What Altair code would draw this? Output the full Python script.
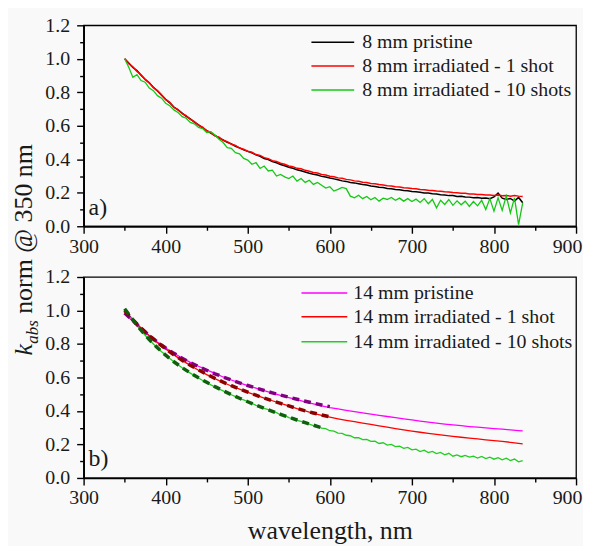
import altair as alt
import pandas as pd

FONT = "Liberation Serif, Times New Roman, Times, DejaVu Serif, serif"
TXT = "#1a1a1a"

# ---------------- data ----------------
WL = list(range(350, 836, 5))                 # 5 nm grid, 350..835
WL10 = list(range(350, 831, 10)) + [835]      # 10 nm grid, 350..835
WL_FIT = list(range(350, 601, 10))            # fit range 350..600
WL_FIT_G = list(range(350, 591, 10))          # fit range 350..590

X_TICKS = list(range(300, 901, 50))
Y_TICKS = [0.0, 0.1, 0.2, 0.3, 0.4, 0.5, 0.6, 0.7, 0.8, 0.9, 1.0, 1.1, 1.2]

A_NAMES = ["8 mm pristine", "8 mm irradiated - 1 shot", "8 mm irradiated - 10 shots"]
A_COLORS = ["#000000", "#ff0000", "#14c814"]

A_PRISTINE = [
    1.000, 0.975, 0.948, 0.930, 0.902, 0.878, 0.856, 0.830, 0.808, 0.782,
    0.758, 0.737, 0.712, 0.695, 0.676, 0.656, 0.641, 0.622, 0.605, 0.588,
    0.571, 0.556, 0.542, 0.528, 0.515, 0.502, 0.492, 0.478, 0.468, 0.456,
    0.447, 0.438, 0.426, 0.418, 0.405, 0.398, 0.386, 0.379, 0.369, 0.361,
    0.352, 0.346, 0.337, 0.331, 0.324, 0.317, 0.311, 0.306, 0.298, 0.294,
    0.288, 0.283, 0.278, 0.271, 0.268, 0.262, 0.259, 0.254, 0.249, 0.246,
    0.241, 0.238, 0.233, 0.232, 0.226, 0.224, 0.219, 0.218, 0.213, 0.212,
    0.208, 0.206, 0.203, 0.199, 0.198, 0.194, 0.193, 0.188, 0.187, 0.183,
    0.184, 0.178, 0.179, 0.175, 0.174, 0.170, 0.172, 0.167, 0.169, 0.164,
    0.175, 0.198, 0.168, 0.160, 0.166, 0.150, 0.172, 0.140,
]
A_SHOT1 = [
    1.000, 0.970, 0.952, 0.925, 0.905, 0.875, 0.858, 0.828, 0.810, 0.785,
    0.757, 0.740, 0.710, 0.697, 0.672, 0.660, 0.638, 0.625, 0.603, 0.592,
    0.570, 0.560, 0.540, 0.532, 0.513, 0.505, 0.490, 0.482, 0.467, 0.460,
    0.448, 0.442, 0.428, 0.423, 0.410, 0.404, 0.392, 0.387, 0.376, 0.370,
    0.360, 0.356, 0.346, 0.343, 0.334, 0.329, 0.321, 0.318, 0.309, 0.306,
    0.299, 0.296, 0.289, 0.287, 0.280, 0.277, 0.271, 0.269, 0.263, 0.261,
    0.256, 0.254, 0.249, 0.247, 0.242, 0.241, 0.236, 0.235, 0.230, 0.229,
    0.225, 0.224, 0.220, 0.218, 0.215, 0.214, 0.210, 0.209, 0.206, 0.205,
    0.201, 0.200, 0.197, 0.197, 0.193, 0.193, 0.190, 0.190, 0.187, 0.187,
    0.184, 0.186, 0.182, 0.184, 0.180, 0.183, 0.180, 0.178,
]
A_SHOT10 = [
    1.000, 0.950, 0.890, 0.905, 0.870, 0.860, 0.825, 0.810, 0.780, 0.765,
    0.735, 0.720, 0.695, 0.680, 0.655, 0.645, 0.620, 0.612, 0.590, 0.583,
    0.560, 0.565, 0.545, 0.520, 0.500, 0.470, 0.465, 0.440, 0.432, 0.405,
    0.395, 0.370, 0.380, 0.345, 0.360, 0.330, 0.335, 0.300, 0.310, 0.295,
    0.285, 0.300, 0.270, 0.285, 0.262, 0.275, 0.250, 0.262, 0.245, 0.228,
    0.236, 0.210, 0.220, 0.232, 0.225, 0.180, 0.170, 0.185, 0.165, 0.178,
    0.158, 0.172, 0.150, 0.168, 0.160, 0.172, 0.155, 0.168, 0.150, 0.165,
    0.148, 0.162, 0.142, 0.165, 0.135, 0.160, 0.110, 0.155, 0.130, 0.160,
    0.125, 0.152, 0.128, 0.150, 0.118, 0.148, 0.122, 0.155, 0.100, 0.165,
    0.090, 0.170, 0.095, 0.180, 0.080, 0.170, 0.010, 0.140,
]

B_NAMES = ["14 mm pristine", "14 mm irradiated - 1 shot", "14 mm irradiated - 10 shots"]
B_COLORS = ["#ff00ff", "#ff0000", "#22cc22"]
FIT_COLORS = ["#800080", "#8b0000", "#0f5f0f"]

B_PRISTINE = [
    0.980, 0.935, 0.890, 0.848, 0.810, 0.776, 0.745, 0.716, 0.690, 0.667,
    0.645, 0.624, 0.603, 0.585, 0.568, 0.552, 0.536, 0.521, 0.506, 0.493,
    0.480, 0.467, 0.455, 0.443, 0.431, 0.420, 0.412, 0.404, 0.396, 0.388,
    0.381, 0.374, 0.367, 0.360, 0.353, 0.347, 0.340, 0.334, 0.328, 0.322,
    0.317, 0.312, 0.307, 0.303, 0.299, 0.295, 0.291, 0.287, 0.283, 0.281,
]
B_SHOT1 = [
    1.000, 0.945, 0.895, 0.850, 0.808, 0.770, 0.735, 0.702, 0.672, 0.643,
    0.617, 0.593, 0.570, 0.549, 0.530, 0.511, 0.494, 0.477, 0.461, 0.446,
    0.430, 0.414, 0.400, 0.386, 0.374, 0.363, 0.353, 0.344, 0.336, 0.328,
    0.320, 0.311, 0.303, 0.295, 0.287, 0.280, 0.273, 0.266, 0.260, 0.254,
    0.248, 0.243, 0.238, 0.233, 0.228, 0.223, 0.218, 0.213, 0.207, 0.203,
]
B_SHOT10 = [
    1.010, 0.975, 0.945, 0.910, 0.880, 0.852, 0.825, 0.800, 0.776, 0.754,
    0.735, 0.713, 0.694, 0.676, 0.658, 0.641, 0.626, 0.610, 0.597, 0.582,
    0.570, 0.556, 0.544, 0.531, 0.520, 0.507, 0.497, 0.486, 0.474, 0.466,
    0.455, 0.446, 0.434, 0.427, 0.415, 0.408, 0.396, 0.390, 0.377, 0.373,
    0.360, 0.354, 0.344, 0.338, 0.329, 0.321, 0.313, 0.306, 0.297, 0.294,
    0.282, 0.279, 0.268, 0.266, 0.255, 0.252, 0.240, 0.241, 0.229, 0.230,
    0.218, 0.219, 0.206, 0.210, 0.196, 0.200, 0.187, 0.190, 0.177, 0.182,
    0.168, 0.172, 0.158, 0.166, 0.151, 0.158, 0.145, 0.152, 0.138, 0.147,
    0.130, 0.138, 0.127, 0.135, 0.124, 0.130, 0.119, 0.128, 0.116, 0.124,
    0.112, 0.121, 0.108, 0.118, 0.104, 0.113, 0.096, 0.104,
]
B_FIT_PRISTINE = [
    0.985, 0.940, 0.893, 0.850, 0.811, 0.776, 0.744, 0.715, 0.689, 0.665,
    0.643, 0.622, 0.603, 0.585, 0.568, 0.552, 0.537, 0.522, 0.508, 0.495,
    0.482, 0.470, 0.458, 0.447, 0.436, 0.426,
]
B_FIT_SHOT1 = [
    1.000, 0.945, 0.895, 0.850, 0.809, 0.771, 0.736, 0.703, 0.673, 0.645,
    0.619, 0.595, 0.572, 0.551, 0.531, 0.512, 0.494, 0.477, 0.461, 0.445,
    0.430, 0.415, 0.401, 0.388, 0.376, 0.365,
]
B_FIT_SHOT10 = [
    1.010, 0.944, 0.882, 0.826, 0.777, 0.733, 0.694, 0.659, 0.627, 0.598,
    0.571, 0.545, 0.521, 0.498, 0.476, 0.455, 0.435, 0.416, 0.398, 0.380,
    0.363, 0.346, 0.330, 0.315, 0.300,
]

# ---------------- helpers ----------------
W, H = 495, 202
XS = alt.Scale(domain=[300, 900], nice=False, zero=False)
YS = alt.Scale(domain=[0, 1.2], nice=False, zero=False)
ONE = pd.DataFrame({"o": [0]})


def make_axes(xtitle):
    xa = alt.Axis(
        values=X_TICKS,
        labelExpr="datum.value % 100 == 0 ? datum.label : ''",
        tickSize={"condition": {"test": "datum.value % 100 == 0", "value": 7}, "value": 4},
        labelOffset={"condition": {"test": "datum.value == 900", "value": -9}, "value": 0},
        labelPadding=3,
        title=xtitle,
        titlePadding=10,
    )
    ya = alt.Axis(
        values=Y_TICKS,
        labelExpr="round(datum.value*10) % 2 == 0 ? format(datum.value, '.1f') : ''",
        tickSize={"condition": {"test": "round(datum.value*10) % 2 == 0", "value": 7}, "value": 4},
        labelPadding=7,
        title=None,
    )
    return xa, ya


def line(wl, vals, color, width, xa, ya, dash=None):
    df = pd.DataFrame({"wl": wl, "k": vals})
    kw = dict(color=color, strokeWidth=width, clip=True)
    if dash:
        kw["strokeDash"] = dash
    return alt.Chart(df).mark_line(**kw).encode(
        x=alt.X("wl:Q", scale=XS, axis=xa),
        y=alt.Y("k:Q", scale=YS, axis=ya),
    )


def text(t, x, y, size, style="normal", angle=0, align="left", baseline="alphabetic"):
    return alt.Chart(ONE).mark_text(
        font=FONT, fontSize=size, fontStyle=style, angle=angle, align=align,
        baseline=baseline, color=TXT,
    ).encode(x=alt.value(x), y=alt.value(y), text=alt.value(t))


def legend(names, colors, x0, x1, xt, ys):
    out = []
    for n, c, y in zip(names, colors, ys):
        out.append(alt.Chart(ONE).mark_rule(color=c, strokeWidth=1.5).encode(
            x=alt.value(x0), x2=alt.value(x1), y=alt.value(y)))
        out.append(text(n, xt, y, 20, baseline="middle"))
    return out


# ---------------- panel a ----------------
xa, ya = make_axes(None)
pa_layers = [
    line(WL, A_PRISTINE, A_COLORS[0], 1.5, xa, ya),
    line(WL, A_SHOT1, A_COLORS[1], 1.5, xa, ya),
    line(WL, A_SHOT10, A_COLORS[2], 1.3, xa, ya),
]
pa_layers += legend(A_NAMES, A_COLORS, 229, 272, 280, [17, 41, 65])
pa_layers.append(text("a)", 5, 191, 24))
# y-axis title (shared by both panels)
pa_layers.append(text("k", -52, 332, 26, style="italic", angle=270))
pa_layers.append(text("abs", -46, 320, 17, style="italic", angle=270))
pa_layers.append(text("norm @ 350 nm", -52, 290, 26, angle=270))
panel_a = alt.layer(*pa_layers).properties(width=W, height=H)

# ---------------- panel b ----------------
xb, yb = make_axes("wavelength, nm")
pb_layers = [
    line(WL10, B_PRISTINE, B_COLORS[0], 1.3, xb, yb),
    line(WL10, B_SHOT1, B_COLORS[1], 1.3, xb, yb),
    line(WL, B_SHOT10, B_COLORS[2], 1.3, xb, yb),
    line(WL_FIT, B_FIT_PRISTINE, FIT_COLORS[0], 3.5, xb, yb, dash=[7, 5]),
    line(WL_FIT, B_FIT_SHOT1, FIT_COLORS[1], 3.5, xb, yb, dash=[7, 5]),
    line(WL_FIT_G, B_FIT_SHOT10, FIT_COLORS[2], 3.5, xb, yb, dash=[7, 5]),
]
pb_layers += legend(B_NAMES, B_COLORS, 219, 265, 271, [16, 40, 65])
pb_layers.append(text("b)", 5, 190, 24))
panel_b = alt.layer(*pb_layers).properties(width=W, height=H)

chart = alt.vconcat(panel_a, panel_b, spacing=51, bounds="flush").properties(
    padding={"left": 2, "top": 5, "right": 0, "bottom": 0},
    background="#f9f9f9",
).configure_view(
    stroke="black", strokeWidth=1.3,
).configure_axis(
    grid=False,
    domainColor="black", domainWidth=1.8,
    tickColor="black", tickWidth=1.4,
    labelFont=FONT, labelFontSize=20, labelColor=TXT,
    labelFlush=False, labelOverlap=False,
    titleFont=FONT, titleFontSize=26, titleFontWeight="normal", titleColor=TXT,
)

chart.save("out.html", embed_options={"renderer": "svg", "actions": False})
